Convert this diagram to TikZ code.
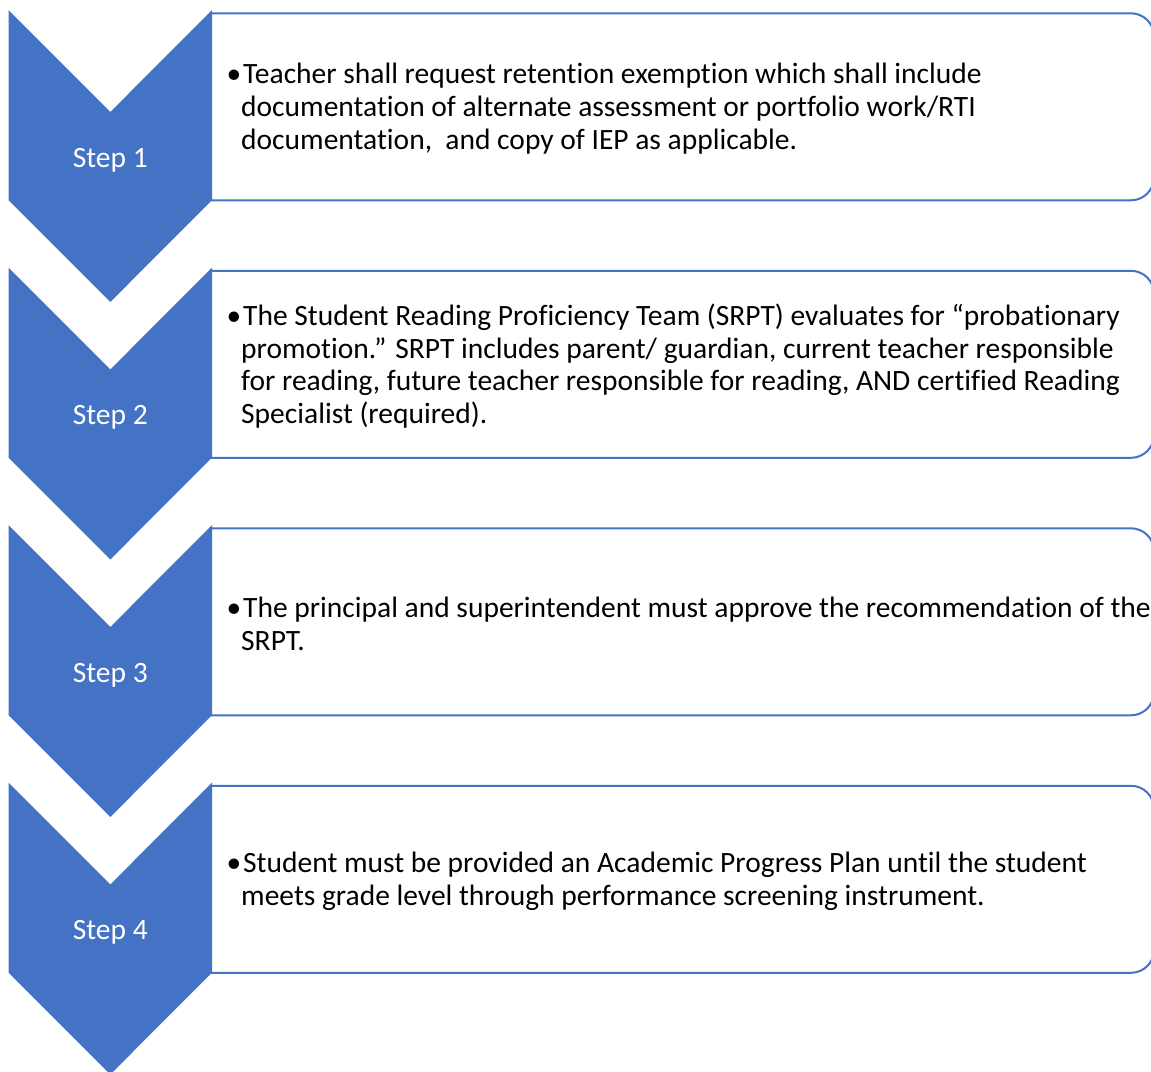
\documentclass[tikz,border=0pt]{standalone}
\usepackage{fontspec}
\setmainfont{Carlito}[Ligatures=NoCommon]
\definecolor{accent}{HTML}{4472C4}
\begin{document}
\begin{tikzpicture}[x=1pt,y=-1pt,
  chev/.style={fill=accent,draw=none},
  boxline/.style={draw=accent,line width=2pt,fill=white},
  steplabel/.style={text=white,font=\fontsize{29.5}{33}\selectfont,inner sep=0},
  bodytext/.style={anchor=west,align=left,inner sep=0,font=\fontsize{29.5}{32.8}\selectfont}]
\useasboundingbox (0,0) rectangle (1151,1071);
\foreach \i in {0,1,2,3}{
  \pgfmathsetmacro{\t}{10+257.5*\i}
  \pgfmathsetmacro{\bt}{\t+3.3}
  \pgfmathsetmacro{\bb}{\t+190.3}
  \pgfmathtruncatemacro{\n}{\i+1}
  \path[boxline] (210,\bb) -- (210,\bt) -- (1131,\bt)
     arc[start angle=90,end angle=0,radius=23pt] -- (1154,\bb-23)
     arc[start angle=0,end angle=-90,radius=23pt] -- cycle;
  \path[chev] (8.5,\t) -- (110.3,\t+102) -- (212,\t) -- (212,\t+190)
     -- (110.3,\t+292) -- (8.5,\t+190) -- cycle;
  \node[steplabel] (s\n) at (110.3,\t+150) {Step \n};
}
\node[bodytext] (t1) at (241,108.5) {\llap{•}\hspace{2pt}Teacher shall request retention exemption which shall include\\documentation of alternate assessment or portfolio work/RTI\\documentation,\ \ and copy of IEP as applicable.};
\node[bodytext] (t2) at (241,366) {\llap{•}\hspace{2pt}The Student Reading Proficiency Team (SRPT) evaluates for “probationary\\promotion.” SRPT includes parent/ guardian, current teacher responsible\\for reading, future teacher responsible for reading, AND certified Reading\\Specialist (required).};
\node[bodytext] (t3) at (241,623.5) {\llap{•}\hspace{2pt}The principal and superintendent must approve the recommendation of the\\SRPT.};
\node[bodytext] (t4) at (241,881) {\llap{•}\hspace{2pt}Student must be provided an Academic Progress Plan until the student\\meets grade level through performance screening instrument.};
\end{tikzpicture}
\end{document}
